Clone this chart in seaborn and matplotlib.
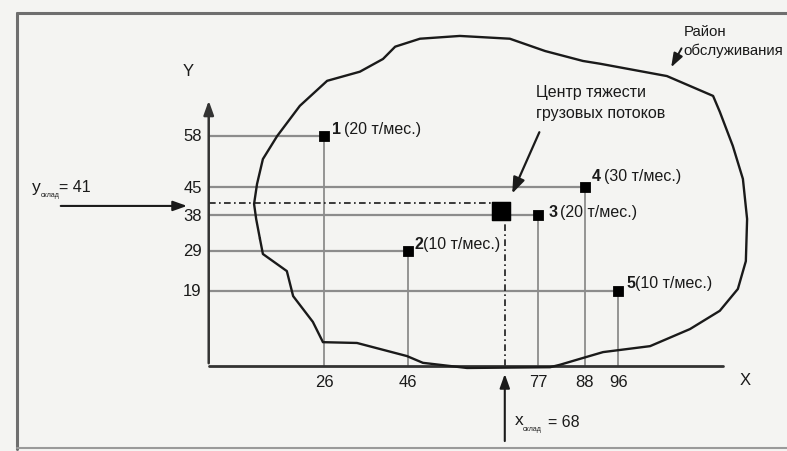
import numpy as np
import pandas as pd
import matplotlib
matplotlib.use("Agg")
import matplotlib.pyplot as plt
import seaborn as sns

# supply points: id, x, y, monthly load (t/month)
point_ids = ["1", "2", "3", "4", "5"]
point_x = [26, 46, 77, 88, 96]
point_y = [58, 29, 38, 45, 19]
point_load = [20, 10, 20, 30, 10]
label_gap = ["1 ", "", " ", " ", ""]          # "1 (20..." vs "2(10..." as printed

# centre of gravity: stated coordinates and where the square sits in the drawing
center_x = 68
center_y = 41
center_marker_y = 39

x_ticks = [26, 46, 77, 88, 96]
y_ticks = [58, 45, 38, 29, 19]

# service area boundary (same units as the axes)
area_x = [10.7, 9.8, 9.3, 10.0, 11.4, 14.8, 20.2, 26.7, 34.5, 40.0, 42.9, 48.8,
          58.3, 70.2, 78.6, 87.6, 91.7, 107.6, 118.6, 120.2, 123.3, 125.7, 126.7,
          126.4, 124.5, 120.2, 113.1, 103.6, 92.4, 86.9, 82.1, 79.8, 60.0, 49.5,
          45.7, 33.8, 25.7, 23.3, 18.6, 17.1, 11.4, 10.7]
area_y = [32.0, 37.0, 40.8, 45.8, 52.1, 57.9, 65.5, 71.8, 74.1, 77.3, 80.4, 82.4,
          83.1, 82.4, 79.3, 76.8, 76.1, 73.0, 68.0, 64.0, 55.4, 47.1, 37.0,
          26.4, 19.4, 13.9, 9.3, 5.0, 3.5, 1.8, 0.3, -0.3, -0.5, 0.8,
          2.5, 5.8, 6.0, 11.1, 17.6, 23.9, 28.2, 32.0]

bg = "#f4f4f2"
ink = "#1a1a1a"
guide = "#8c8c8c"
font = ["Liberation Sans Narrow", "Liberation Sans", "DejaVu Sans"]
fs = 11.5

sns.set_theme(style="white")
plt.rcParams["font.family"] = font

fig = plt.figure(figsize=(7.87, 4.52), dpi=100, facecolor=bg)
ax = fig.add_axes([0, 0, 1, 1])
ax.set_facecolor(bg)
ax.set_xlim(-51.2, 136.2)
ax.set_ylim(-21.4, 92.4)
ax.axis("off")

# page frame
fig.add_artist(plt.Line2D([0.022, 0.022], [0.004, 0.969], color="#6e6e6e", lw=2.2))
fig.add_artist(plt.Line2D([0.022, 1.0], [0.969, 0.969], color="#6e6e6e", lw=2.2))
fig.add_artist(plt.Line2D([0.022, 1.0], [0.006, 0.006], color="#9a9a9a", lw=1.5))

x0 = -1.5
# guide lines from the axes to every point
for px, py in zip(point_x, point_y):
    ax.plot([x0, px], [py, py], color=guide, lw=1.6, zorder=1)
    ax.plot([px, px], [0, py], color=guide, lw=1.3, zorder=1)

# dash-dot lines to the centre
ax.plot([x0, center_x], [center_y, center_y], color=ink, lw=1.2,
        ls=(0, (4, 2, 1, 2)), zorder=2)
ax.plot([center_x + 1.0, center_x + 1.0], [0, center_marker_y], color=ink, lw=1.2,
        ls=(0, (4, 2, 1, 2)), zorder=2)

# axes
ax.plot([x0, 121], [0, 0], color="#333333", lw=2.0, zorder=3)
ax.annotate("", xy=(x0, 67.5), xytext=(x0, 0),
            arrowprops=dict(arrowstyle="-|>,head_width=0.25,head_length=0.7",
                            color="#333333", lw=1.8), zorder=3)
ax.text(-6.4, 74.3, "Y", fontsize=12, color=ink, ha="center", va="center")
ax.text(126.2, -3.5, "X", fontsize=12, color=ink, ha="center", va="center")

for t in x_ticks:
    ax.annotate(str(t), xy=(t, 0), xytext=(0, -15), textcoords="offset pixels",
                ha="center", va="center", fontsize=12, color=ink)
for t in y_ticks:
    ax.annotate(str(t), xy=(x0, t), xytext=(-7, 0), textcoords="offset pixels",
                ha="right", va="center", fontsize=12, color=ink)

# service area
area = pd.DataFrame({"x": area_x, "y": area_y})
sns.lineplot(data=area, x="x", y="y", sort=False, estimator=None,
             color=ink, lw=1.7, ax=ax, zorder=4)

# points
pts = pd.DataFrame({"x": point_x, "y": point_y})
sns.scatterplot(data=pts, x="x", y="y", marker="s", s=55, color="black",
                edgecolor="black", ax=ax, zorder=5)
sns.scatterplot(x=[center_x], y=[center_marker_y], marker="s", s=175,
                color="black", edgecolor="black", ax=ax, zorder=6)

label_offsets = [(8, 7), (6, 7), (10, 4), (7, 12), (8, 8)]
for pid, px, py, load, gap, off in zip(point_ids, point_x, point_y, point_load,
                                      label_gap, label_offsets):
    ax.annotate(pid, xy=(px, py), xytext=off, textcoords="offset pixels",
                ha="left", va="center", fontsize=fs, fontweight="bold", color=ink)
    shift = 12 if gap else 9
    ax.annotate(f"({load} т/мес.)", xy=(px, py),
                xytext=(off[0] + shift, off[1]), textcoords="offset pixels",
                ha="left", va="center", fontsize=fs, color=ink)

# centre of gravity callout
ax.annotate("Центр тяжести\nгрузовых потоков", xy=(center_x, center_marker_y),
            xytext=(35, 109), textcoords="offset pixels", ha="left", va="center",
            fontsize=fs, color=ink, linespacing=1.45)
ax.annotate("", xy=(center_x + 2.5, center_marker_y + 3.8),
            xytext=(center_x + 9.5, center_marker_y + 20.5),
            arrowprops=dict(arrowstyle="-|>,head_width=0.3,head_length=0.8",
                            color=ink, lw=1.6))

# service area callout
ax.text(111.5, 82.0, "Район\nобслуживания", fontsize=10.8, color=ink,
        ha="left", va="center", linespacing=1.45)
ax.annotate("", xy=(108.3, 74.6), xytext=(111.4, 80.6),
            arrowprops=dict(arrowstyle="-|>,head_width=0.25,head_length=0.7",
                            color=ink, lw=1.4))

# y_склад arrow
ytail = (-37.4, center_y - 0.7)
ax.annotate("", xy=(-6.0, center_y - 0.7), xytext=ytail,
            arrowprops=dict(arrowstyle="-|>,head_width=0.25,head_length=0.7",
                            color=ink, lw=1.5))
ax.annotate("у", xy=ytail, xytext=(-26, 19), textcoords="offset pixels",
            ha="left", va="center", fontsize=12.5, color=ink)
ax.annotate("склад", xy=ytail, xytext=(-17, 11), textcoords="offset pixels",
            ha="left", va="center", fontsize=5, color=ink)
ax.annotate(f"= {center_y}", xy=ytail, xytext=(1, 19), textcoords="offset pixels",
            ha="left", va="center", fontsize=fs, color=ink)

# x_склад arrow
xtail = (center_x + 1.0, -19.6)
ax.annotate("", xy=(center_x + 1.0, -1.3), xytext=xtail,
            arrowprops=dict(arrowstyle="-|>,head_width=0.25,head_length=0.7",
                            color=ink, lw=1.5))
ax.annotate("х", xy=xtail, xytext=(10, 24), textcoords="offset pixels",
            ha="left", va="center", fontsize=12.5, color=ink)
ax.annotate("склад", xy=xtail, xytext=(18, 15), textcoords="offset pixels",
            ha="left", va="center", fontsize=5, color=ink)
ax.annotate(f"= {center_x}", xy=xtail, xytext=(43, 22), textcoords="offset pixels",
            ha="left", va="center", fontsize=fs, color=ink)

fig.savefig("out.png", dpi=100, facecolor=bg)
